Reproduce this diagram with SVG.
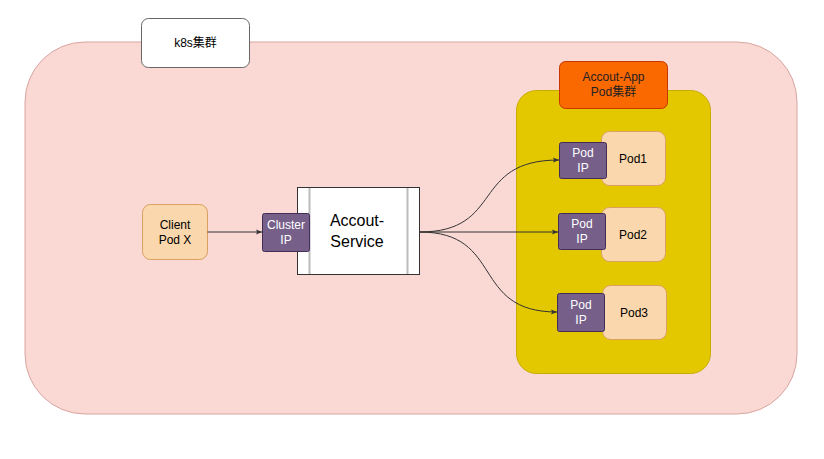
<svg xmlns="http://www.w3.org/2000/svg" width="824" height="459" viewBox="0 0 824 459">
<defs>
<style>
text{font-family:"Liberation Sans",Arial,"Noto Sans CJK SC",sans-serif;font-size:12px;text-anchor:middle}
.ip{fill:#76608a;stroke:#432d57;stroke-width:1}
.ipt{fill:#ffffff}
.pod{fill:#fad7ac;stroke:#d9a060;stroke-width:1}
.edge{fill:none;stroke:#333333;stroke-width:1}
</style>
<marker id="arr" viewBox="0 0 10 10" refX="10" refY="5" markerWidth="6" markerHeight="6" orient="auto" markerUnits="userSpaceOnUse">
<path d="M0,1 L10,5 L0,9 L2,5 Z" fill="#333333"/>
</marker>
</defs>
<rect width="824" height="459" fill="#ffffff"/>
<g id="k8s-cluster">
<rect x="25" y="42" width="772" height="372" rx="60" ry="60" fill="#fad9d5" stroke="#d9a5a0" stroke-width="1"/>
</g>
<g id="k8s-label">
<rect x="141.5" y="18.5" width="108" height="49" rx="7" fill="#ffffff" stroke="#666666" stroke-width="1"/>
<text x="195.5" y="47">k8s集群</text>
</g>
<g id="app-pod-group">
<rect x="516.5" y="90.5" width="194" height="283" rx="20" fill="#e3c800" stroke="#c8ac00" stroke-width="1"/>
</g>
<g id="app-label">
<rect x="559.5" y="61.5" width="108" height="47" rx="6" fill="#fa6800" stroke="#c73500" stroke-width="1"/>
<text x="613.5" y="81" fill="#222222">Accout-App</text>
<text x="613.5" y="96" fill="#222222">Pod集群</text>
</g>
<g id="client">
<rect class="pod" x="142.5" y="204.5" width="65" height="55" rx="8"/>
<text x="175" y="229">Client</text>
<text x="175" y="244">Pod X</text>
</g>
<g id="service">
<rect x="297.5" y="187.5" width="122" height="87" fill="#ffffff" stroke="#333333" stroke-width="1"/>
<line x1="309.5" y1="188" x2="309.5" y2="274" stroke="#bbbbbb" stroke-width="2"/>
<line x1="407.5" y1="188" x2="407.5" y2="274" stroke="#bbbbbb" stroke-width="2"/>
<text x="357" y="226" style="font-size:16px">Accout-</text>
<text x="357" y="247" style="font-size:16px">Service</text>
</g>
<g id="cluster-ip">
<rect class="ip" x="262.5" y="213.5" width="47" height="38" rx="2"/>
<text class="ipt" x="286" y="229">Cluster</text>
<text class="ipt" x="286" y="244">IP</text>
</g>
<g id="pod1">
<rect class="pod" x="601.5" y="131.5" width="64" height="54" rx="8"/>
<text x="633" y="163">Pod1</text>
</g>
<g id="pod1-ip">
<rect class="ip" x="559.5" y="142.5" width="47" height="36" rx="2"/>
<text class="ipt" x="583" y="157">Pod</text>
<text class="ipt" x="583" y="172">IP</text>
</g>
<g id="pod2">
<rect class="pod" x="601.5" y="207.5" width="64" height="54" rx="8"/>
<text x="633" y="239">Pod2</text>
</g>
<g id="pod2-ip">
<rect class="ip" x="558.5" y="213.5" width="47" height="36" rx="2"/>
<text class="ipt" x="582" y="228">Pod</text>
<text class="ipt" x="582" y="243">IP</text>
</g>
<g id="pod3">
<rect class="pod" x="602.5" y="285.5" width="64" height="54" rx="8"/>
<text x="634" y="317">Pod3</text>
</g>
<g id="pod3-ip">
<rect class="ip" x="557.5" y="293.5" width="47" height="38" rx="2"/>
<text class="ipt" x="581" y="309">Pod</text>
<text class="ipt" x="581" y="324">IP</text>
</g>
<g id="connectors">
<path class="edge" d="M207.5,232 L262,232" marker-end="url(#arr)"/>
<path class="edge" d="M419.5,232 C505,232 470,160 559,160" marker-end="url(#arr)"/>
<path class="edge" d="M419.5,232 L558,232" marker-end="url(#arr)"/>
<path class="edge" d="M419.5,232 C505,232 470,312 557,312" marker-end="url(#arr)"/>
</g>
</svg>
